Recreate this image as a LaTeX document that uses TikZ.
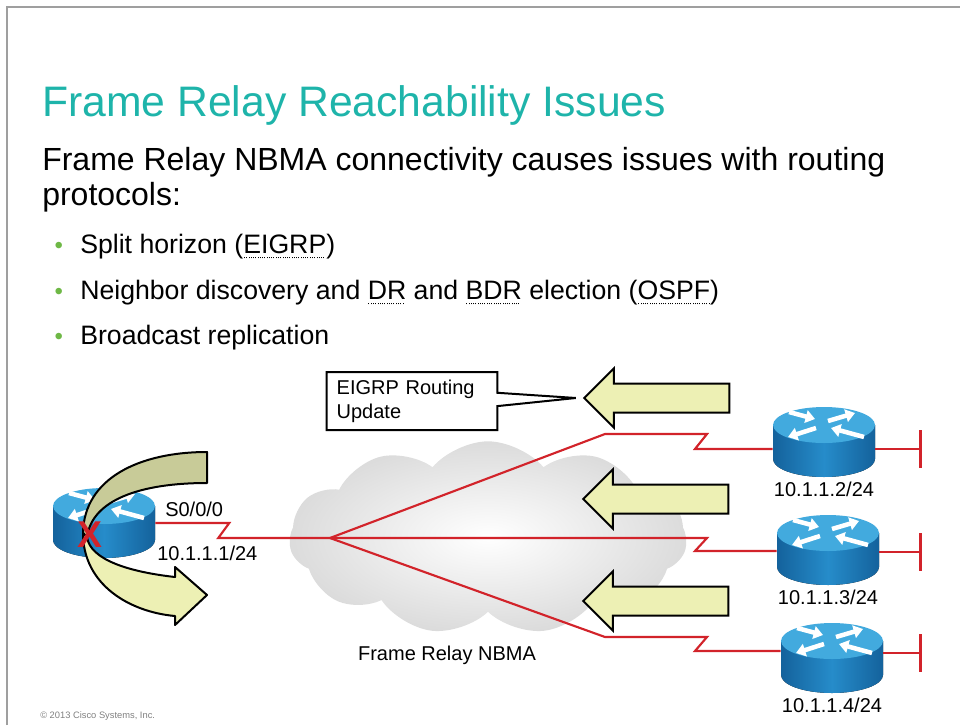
\documentclass[tikz,border=0pt]{standalone}
\usepackage{fontspec}
\setmainfont{Liberation Sans}
\usetikzlibrary{arrows.meta,positioning,shapes.symbols,shapes.arrows,shapes.callouts,calc}
\definecolor{slideteal}{RGB}{30,180,170}
\definecolor{bulletgreen}{RGB}{110,184,70}
\definecolor{wanred}{RGB}{210,35,42}
\definecolor{routertop}{RGB}{66,170,222}
\definecolor{routerside}{RGB}{38,140,202}
\definecolor{routeredge}{RGB}{20,98,156}
\definecolor{updfill}{RGB}{237,240,180}
\definecolor{backfill}{RGB}{200,203,152}
% dotted underline for the abbreviations
\newcommand\dotul[1]{\setbox0=\hbox{#1}\rlap{\raisebox{-4pt}{\hbox to \wd0{\leaders\hbox to 1.7pt{\hss\rule{0.7pt}{0.7pt}\hss}\hfill}}}\box0\relax}

\begin{document}
\begin{tikzpicture}[x=0.75pt,y=-0.75pt,>=Latex,every node/.style={font=\fontsize{15}{18}\selectfont}]
\tikzstyle{router}=[minimum width=76.5pt,minimum height=52.5pt,inner sep=0pt,path picture={
  \begin{scope}[shift={(path picture bounding box.center)}]
    \fill[left color=routeredge,right color=routeredge,middle color=routerside] (-51,-17) -- (-51,17) arc[start angle=180,end angle=0,x radius=51,y radius=18] -- (51,-17) -- cycle;
    \fill[routertop] (0,-17) ellipse[x radius=51,y radius=18];
    \draw[white,line width=3.4pt,-{Triangle[length=7pt,width=9.5pt]}] (-35,-30) -- (-9,-23);
    \draw[white,line width=3.4pt,-{Triangle[length=7pt,width=9.5pt]}] (4,-21) -- (31,-29);
    \draw[white,line width=3.4pt,-{Triangle[length=7pt,width=9.5pt]}] (-8,-14) -- (-36,-5);
    \draw[white,line width=3.4pt,-{Triangle[length=7pt,width=9.5pt]}] (40,-5) -- (7,-14);
  \end{scope}}]
\tikzstyle{wan}=[draw=wanred,line width=1.6pt]
\tikzstyle{lan}=[wan,-{Bar[width=28pt,line width=2.4pt]}]
\tikzstyle{update}=[single arrow,shape border rotate=180,draw=black,line width=1.5pt,fill=updfill,minimum height=108.75pt,text height=20.25pt,text depth=0pt,inner sep=0pt,single arrow head extend=11.25pt]
\tikzstyle{addr}=[inner sep=1pt]
\tikzstyle{item}=[anchor=base west,inner sep=0pt,font=\fontsize{20}{24}\selectfont]
\useasboundingbox (0,0) rectangle (960,725);
\draw[gray!75,line width=1.2pt] (7,725) -- (7,7) -- (960,7);

% slide text
\node[anchor=base west,inner sep=0pt,text=slideteal,font=\fontsize{32}{38}\selectfont] (title) at (42,116) {Frame Relay Reachability Issues};
\node[anchor=base west,inner sep=0pt,font=\fontsize{24}{28}\selectfont] (intro) at (42,170) {Frame Relay NBMA connectivity causes issues with routing};
\node[anchor=base west,inner sep=0pt,font=\fontsize{24}{28}\selectfont] (intro2) at (42,205) {protocols:};
\node[item] (b1) at (80,253) {\llap{\textcolor{bulletgreen}{\fontsize{18}{18}\selectfont •}\hspace{13pt}}Split horizon (\dotul{EIGRP})};
\node[item] (b2) at (80,299) {\llap{\textcolor{bulletgreen}{\fontsize{18}{18}\selectfont •}\hspace{13pt}}Neighbor discovery and \dotul{DR} and \dotul{BDR} election (\dotul{OSPF})};
\node[item] (b3) at (80,344) {\llap{\textcolor{bulletgreen}{\fontsize{18}{18}\selectfont •}\hspace{13pt}}Broadcast replication};
\node[anchor=base west,inner sep=0pt,text=gray,font=\fontsize{7}{8}\selectfont] (copy) at (40,718) {© 2013 Cisco Systems, Inc.};

% frame relay cloud
\node[cloud,cloud puffs=11,cloud puff arc=100,aspect=2.1,inner color=white,outer color=black!14,minimum width=298pt,minimum height=145pt] (frnet) at (488,538) {};
\node (frlbl) at (447,655) {Frame Relay NBMA};

% routers
\node[router] (r1) at (104,523) {};
\node[router] (r2) at (824,442) {};
\node[router] (r3) at (828,550) {};
\node[router] (r4) at (832,658) {};
\node[addr,below=2pt of r2] (a2) {10.1.1.2/24};
\node[addr,below=2pt of r3] (a3) {10.1.1.3/24};
\node[addr,below=2pt of r4] (a4) {10.1.1.4/24};
\node[anchor=west,inner sep=0pt] (s0) at (165,509) {S0/0/0};
\node[anchor=west,inner sep=0pt] (a1) at (157,553) {10.1.1.1/24};

% PVCs
\coordinate (hub) at (330,538);
\draw[wan] (r1.east) -- ++(74,0) -- ++(-11,15) -- (hub);
\draw[wan] (hub) -- (605,434) -- ++(102,0) -- ++(-12,15) -- ([yshift=-5.25pt]r2.west);
\draw[wan] (hub) -- (707,538) -- ++(-12,13) -- ([yshift=-0.75pt]r3.west);
\draw[wan] (hub) -- (605,637) -- ++(102,0) -- ++(-12,14) -- ([yshift=5.25pt]r4.west);
\coordinate (lan2) at (922,449);
\coordinate (lan3) at (922,552);
\coordinate (lan4) at (922,653);
\draw[lan] ([yshift=-5.25pt]r2.east) -- (lan2);
\draw[lan] ([yshift=-1.5pt]r3.east) -- (lan3);
\draw[lan] ([yshift=3.75pt]r4.east) -- (lan4);

% updates coming back from the spokes
\node[update] (ua1) at (664,398) {};
\node[update] (ua2) at (663,499) {};
\node[update] (ua3) at (663,601) {};
\node[rectangle callout,draw=black,line width=1.5pt,fill=white,callout absolute pointer={($(ua1.tip)+(-7,0)$)},callout pointer width=10pt,align=left,text width=113pt,inner xsep=7.5pt,minimum height=43.5pt] (upd) at (412,401) {EIGRP Routing\\Update};

% split horizon turn-around
\filldraw[fill=backfill,draw=black,line width=1.5pt,line join=round] (207,452) .. controls (140,452) and (84,478) .. (83,533) -- (87,537) .. controls (92,500) and (140,483) .. (207,483) -- cycle;
\filldraw[fill=updfill,draw=black,line width=1.5pt,line join=round] (83,533) .. controls (83,585) and (130,612) .. (175,616) -- (175,625) -- (207,595) -- (175,567) -- (175,577) .. controls (130,572) and (90,560) .. (87,537) -- cycle;
\node[inner sep=0pt,text=wanred,font=\bfseries\fontsize{28}{28}\selectfont] (blocked) at (90,535) {X};
\end{tikzpicture}
\end{document}
